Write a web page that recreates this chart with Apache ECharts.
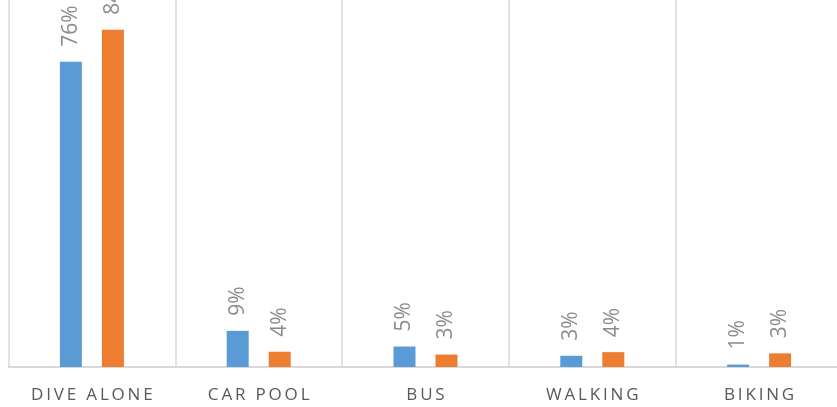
<!DOCTYPE html>
<html>
<head>
<meta charset="utf-8">
<script src="https://cdn.jsdelivr.net/npm/echarts@6/dist/echarts.min.js"></script>
<style>
  html, body { margin: 0; padding: 0; background: #fff; }
  #chart { width: 837px; height: 407px; }
</style>
</head>
<body>
<div id="chart"></div>
<script>
const categories = ['DIVE ALONE', 'CAR POOL', 'BUS', 'WALKING', 'BIKING']
const seriesA = [76, 9, 5.1, 2.8, 0.6]
const seriesB = [84, 3.8, 3.1, 3.7, 3.4]

const chart = echarts.init(document.getElementById('chart'))

const valueLabel = {
  show: true,
  position: 'top',
  rotate: 90,
  align: 'left',
  verticalAlign: 'middle',
  distance: 15,
  color: '#8c8c8c',
  fontFamily: 'Open Sans',
  fontSize: 21,
  formatter: p => Math.round(p.value) + '%'
}

const option = {
  animation: false,
  grid: { left: 8.5, width: 834, top: 0, bottom: 40, outerBoundsMode: 'none' },
  xAxis: {
    type: 'category',
    data: categories,
    axisLine: { lineStyle: { color: '#d9d9d9', width: 2 } },
    axisTick: { show: false },
    splitLine: { show: true, interval: 0, lineStyle: { color: '#d9d9d9', width: 1.5 } },
    axisLabel: {
      interval: 0,
      color: '#595959',
      fontFamily: 'Open Sans',
      fontSize: 17,
      margin: 20,
      // spread letters like the original
      formatter: v => v.split('').join('\u2009')
    }
  },
  yAxis: {
    type: 'value',
    min: 0,
    max: 91.4,
    show: false
  },
  series: [
    {
      name: 'A',
      type: 'bar',
      data: seriesA,
      barWidth: 22,
      barGap: '91%',
      itemStyle: { color: '#5b9bd5' },
      label: valueLabel
    },
    {
      name: 'B',
      type: 'bar',
      data: seriesB,
      barWidth: 22,
      itemStyle: { color: '#ed7d31' },
      label: valueLabel
    }
  ]
}
chart.setOption(option)
</script>
</body>
</html>
